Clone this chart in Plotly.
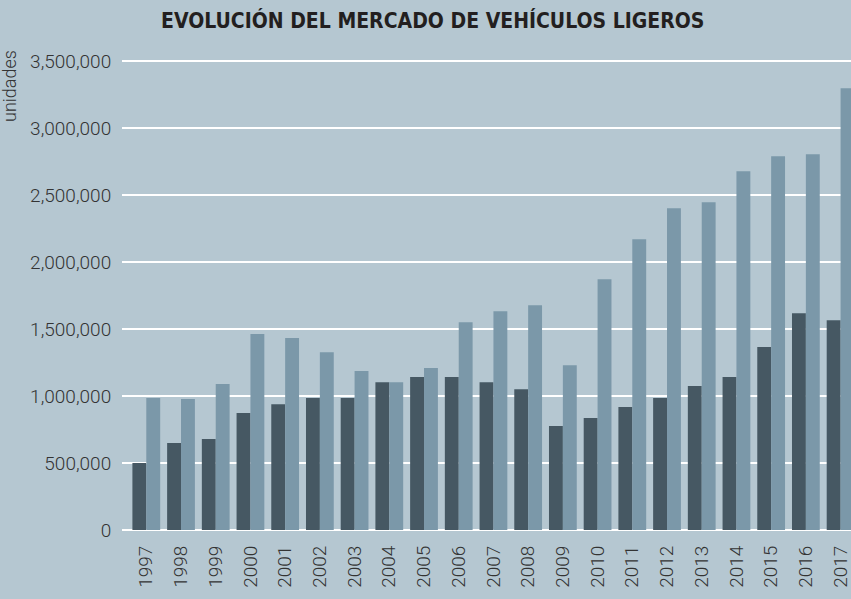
import plotly.graph_objects as go

years = [str(y) for y in range(1997, 2018)]
serie_oscura = [500000, 649000, 679000, 873000, 940000, 985000, 985000, 1104000,
                1142000, 1142000, 1104000, 1052000, 776000, 836000, 918000, 985000,
                1075000, 1142000, 1366000, 1619000, 1567000]
serie_clara = [985000, 978000, 1090000, 1463000, 1433000, 1328000, 1187000, 1104000,
               1209000, 1552000, 1634000, 1679000, 1231000, 1873000, 2172000, 2403000,
               2448000, 2679000, 2791000, 2806000, 3299000]
y_ticks = [0, 500000, 1000000, 1500000, 2000000, 2500000, 3000000, 3500000]
y_tick_text = ["0", "500,000", "1,000,000", "1,500,000", "2,000,000", "2,500,000",
               "3,000,000", "3,500,000"]

BG = "#b5c7d1"
DARK = "#465863"
LIGHT = "#7b98a9"
TXT = "#333333"
TICKFONT = dict(family="Roboto, Liberation Sans, Arial, sans-serif", size=19,
                color=TXT, weight=300)

fig = go.Figure()
fig.add_trace(go.Bar(x=years, y=serie_oscura, marker=dict(color=DARK, line=dict(width=0)),
                     showlegend=False, hoverinfo="skip"))
fig.add_trace(go.Bar(x=years, y=serie_clara, marker=dict(color=LIGHT, line=dict(width=0)),
                     showlegend=False, hoverinfo="skip"))

fig.update_layout(
    width=851, height=599,
    margin=dict(l=122, r=0, t=60, b=69),
    paper_bgcolor=BG, plot_bgcolor=BG,
    barmode="group", bargap=0.2, bargroupgap=0,
    font=dict(family="Roboto, Liberation Sans, Arial, sans-serif", size=18, color=TXT),
    xaxis=dict(type="category", range=[-0.7, 20.3], tickangle=-90,
               showgrid=False, zeroline=False, showline=False,
               ticks="outside", ticklen=7, tickcolor="rgba(0,0,0,0)",
               tickfont=TICKFONT),
    yaxis=dict(range=[0, 3510000], tickvals=y_ticks, ticktext=y_tick_text,
               showgrid=True, gridcolor="white", gridwidth=2,
               zeroline=True, zerolinecolor="white", zerolinewidth=2,
               showline=False, ticks="outside", ticklen=6,
               tickcolor="rgba(0,0,0,0)", tickfont=TICKFONT),
    annotations=[
        dict(text="<b>EVOLUCIÓN DEL MERCADO DE VEHÍCULOS LIGEROS</b>",
             xref="paper", yref="paper", x=(432 - 122) / 729, y=1 + (60 - 20.5) / 470,
             xanchor="center", yanchor="middle", showarrow=False,
             font=dict(family="DejaVu Sans Condensed, Liberation Sans, sans-serif",
                       size=21, color="#231f20")),
        dict(text="unidades", textangle=-90,
             xref="paper", yref="paper", x=-(122 - 10) / 729, y=1 - (86 - 60) / 470,
             xanchor="center", yanchor="middle", showarrow=False,
             font=dict(family="Roboto, Liberation Sans, Arial, sans-serif",
                       size=18, color=TXT, weight=300)),
    ],
)

fig.write_html("out.html", config={"displayModeBar": False},
               post_script="document.body.style.margin='0';")
